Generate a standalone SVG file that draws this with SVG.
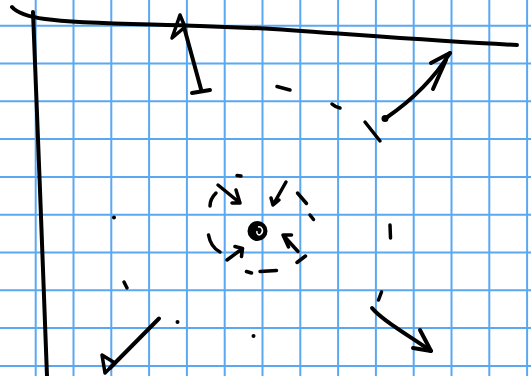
<svg xmlns="http://www.w3.org/2000/svg" width="531" height="376" viewBox="0 0 531 376">
<style>
.g{stroke:#5ba8f2;stroke-width:2;fill:none}
.k{stroke:#000;stroke-width:4;fill:none;stroke-linecap:round;stroke-linejoin:round}
.t{stroke:#000;stroke-width:3.5;fill:none;stroke-linecap:round;stroke-linejoin:round}
</style>
<rect width="531" height="376" fill="#fff"/>
<g id="grid" class="g">
<path d="M35.7,0V376M73.5,0V376M111.3,0V376M149.1,0V376M186.9,0V376M224.7,0V376M262.5,0V376M300.3,0V376M338.1,0V376M375.9,0V376M413.7,0V376M451.5,0V376M489.3,0V376M527.1,0V376"/>
<path d="M0,25.7H531M0,63.5H531M0,101.3H531M0,139.1H531M0,176.9H531M0,214.7H531M0,252.5H531M0,290.3H531M0,328.1H531M0,365.9H531"/>
</g>
<g id="frame" class="k">
<path d="M12,7 C18,14 30,17 45,19 C80,24 150,24 200,26 L265,28.5 C350,34 430,41 517,45"/>
<path d="M33,12 L40,190 L47,376"/>
</g>
<g id="center">
<circle cx="257.5" cy="231" r="10" fill="#000"/>
<path d="M258,227 C262,226 264,231 261,234 C259,236 256,234 257,231" stroke="#fff" stroke-width="1.5" fill="none"/>
</g>
<g id="dots" fill="#000">
<circle cx="114" cy="217.5" r="2"/>
<circle cx="177.5" cy="322" r="2"/>
<circle cx="253.5" cy="336" r="2"/>
<circle cx="385" cy="118.5" r="3.5"/>
</g>
<g id="connectors" class="k">
<path d="M201.5,91 L184,27"/>
<path d="M192,93 L210,90"/>
<path d="M172,38 L180,15 L185,27 Z" class="t"/>
<path d="M386,118 C405,105 430,85 450,53"/>
<path d="M431,63 L450,53 M433,89 L446,60"/>
<path d="M159,318.5 L110,368"/>
<path d="M102,355 L115,363 L105,373 Z" class="t"/>
<path d="M372,308 C380,318 400,330 431,351"/>
<path d="M420,330 L431,351 L413,348"/>
</g>
<g id="marks" class="t">
<path d="M277,86.5 L290,90"/>
<path d="M332,104 C334,106 336,107 340,108"/>
<path d="M365,122 L380,141"/>
<path d="M124,282 L127,288"/>
<path d="M390,225 L390.5,238"/>
<path d="M381.5,292 L378.5,300"/>
<path d="M237,175.5 L241,176"/>
<path d="M216,193 C212,197 210,201 210,206"/>
<path d="M218,185 L240,203 M236,190 L240,203 L232,203"/>
<path d="M286,182 L273,205 M271,198 L273,205 L279,200"/>
<path d="M297.5,193 L306.5,203.5 M310,215 L313.5,219.5"/>
<path d="M208.5,235 C210,243 214,249 220,252"/>
<path d="M227,260 L242.5,248.5 M235,246.5 L242.5,248.5 L241.5,256.5"/>
<path d="M246.5,271.5 L251.5,273 M260,271.5 L276.5,270.5"/>
<path d="M298,251.5 L283,235 M283,235 L291.5,235 M283,235 L288.5,247"/>
<path d="M297,262.5 L305.5,256"/>
</g>
</svg>
